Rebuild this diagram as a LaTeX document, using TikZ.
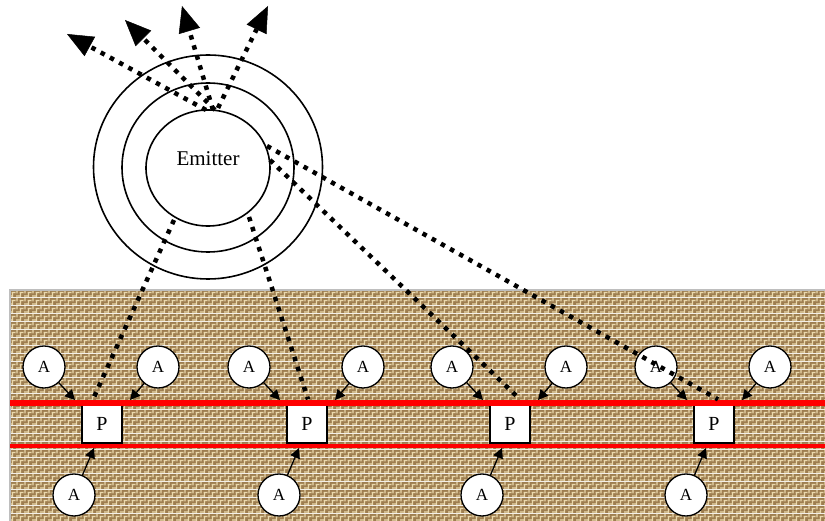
\documentclass[tikz,border=0pt]{standalone}
\usepackage{fontspec}
\setmainfont{Liberation Serif}
\usetikzlibrary{arrows.meta,patterns.meta,shapes.geometric}
\definecolor{burlapdark}{RGB}{158,126,80}
\definecolor{burlaplight}{RGB}{234,216,172}
\definecolor{framegray}{RGB}{190,190,190}
\pgfdeclarepattern{
  name=burlap, type=colored,
  bottom left={\pgfpoint{0pt}{0pt}},
  top right={\pgfpoint{8pt}{8pt}},
  tile size={\pgfpoint{8pt}{8pt}},
  code={
    \pgfsetfillcolor{burlapdark}
    \pgfpathrectangle{\pgfpoint{0pt}{0pt}}{\pgfpoint{8pt}{8pt}}
    \pgfusepath{fill}
    \pgfsetstrokecolor{burlaplight}
    \pgfsetlinewidth{1.4pt}
    \pgfpathmoveto{\pgfpoint{0pt}{1pt}}\pgfpathlineto{\pgfpoint{4pt}{1pt}}
    \pgfpathmoveto{\pgfpoint{5pt}{0pt}}\pgfpathlineto{\pgfpoint{5pt}{4pt}}
    \pgfpathmoveto{\pgfpoint{4pt}{5pt}}\pgfpathlineto{\pgfpoint{8pt}{5pt}}
    \pgfpathmoveto{\pgfpoint{1pt}{4pt}}\pgfpathlineto{\pgfpoint{1pt}{8pt}}
    \pgfusepath{stroke}
  }
}
\begin{document}
\begin{tikzpicture}[x=1pt,y=-1pt,
  dotline/.style={line width=4.5pt, dash pattern=on 4.5pt off 6pt},
  bigtip/.style={-{Triangle[length=26pt,width=22pt,line width=0.5pt]}},
  abox/.style={circle, draw, line width=1.3pt, fill=white, minimum size=42pt, inner sep=0pt, font=\fontsize{17}{17}\selectfont},
  pbox/.style={rectangle, draw, line width=1.3pt, fill=white, minimum width=40pt, minimum height=38pt, inner sep=0pt, font=\fontsize{20}{20}\selectfont},
  smallarrow/.style={line width=1.3pt, -{Triangle[length=10pt,width=10pt]}},
  ring/.style={ellipse, draw, line width=1.6pt, inner sep=0pt}]
\useasboundingbox (0,0) rectangle (825,521);
% textured ground
\fill[pattern=burlap] (10,290) rectangle (826,522);
\draw[framegray, line width=1.2pt] (10,522) -- (10,290) -- (826,290);
% P boxes
\foreach \i/\x in {1/102,2/307,3/510,4/714}{
  \node[pbox] (p\i) at (\x,424) {P};
}
% red lines
\draw[red, line width=6pt] (10,403) -- (826,403);
\draw[red, line width=4pt] (10,446) -- (826,446);
% A circles and their arrows
\foreach \i/\x in {1/102,2/307,3/510,4/714}{
  \node[abox] (al\i) at (\x-58,367) {A};
  \node[abox] (ar\i) at (\x+56,367) {A};
  \node[abox] (ab\i) at (\x-28,495) {A};
  \coordinate (tl\i) at (\x-27,400);
  \coordinate (tr\i) at (\x+28,400);
  \coordinate (tb\i) at (\x-8,448);
  \draw[smallarrow] (al\i) -- (tl\i);
  \draw[smallarrow] (ar\i) -- (tr\i);
  \draw[smallarrow] (ab\i) -- (tb\i);
}
% emitter rings
\node[ring, minimum width=229pt, minimum height=224pt] (outer) at (208,167) {};
\node[ring, minimum width=172pt, minimum height=169pt] (middle) at (208,167.5) {};
\node[ring, minimum width=124pt, minimum height=116pt] (em) at (208,168) {};
\node[font=\fontsize{21}{21}\selectfont] (emtext) at (208,159) {Emitter};
% start points on emitter
\coordinate (e1) at (174,220);
\coordinate (e2) at (249,217);
\coordinate (e3) at (270,160);
\coordinate (e4) at (267,146);
% dotted rays to the P boxes
\draw[dotline] (e1) -- ([xshift=-9pt,yshift=5pt]p1.north);
\draw[dotline] (e2) -- ([xshift=1pt,yshift=5pt]p2.north);
\draw[dotline] (e3) -- ([xshift=10pt,yshift=5pt]p3.north);
\draw[dotline] (e4) -- ([xshift=4pt,yshift=5pt]p4.north);
% dotted rays leaving upwards
\coordinate (u1) at (206,110);
\coordinate (u2) at (215,110);
\coordinate (u3) at (213,110);
\coordinate (u4) at (218,108);
\coordinate (h1) at (67,34);
\coordinate (h2) at (125,20);
\coordinate (h3) at (182,6);
\coordinate (h4) at (268,6);
\foreach \k in {1,2,3,4}{
  \draw[dotline, bigtip] (u\k) -- (h\k);
}
\end{tikzpicture}
\end{document}
